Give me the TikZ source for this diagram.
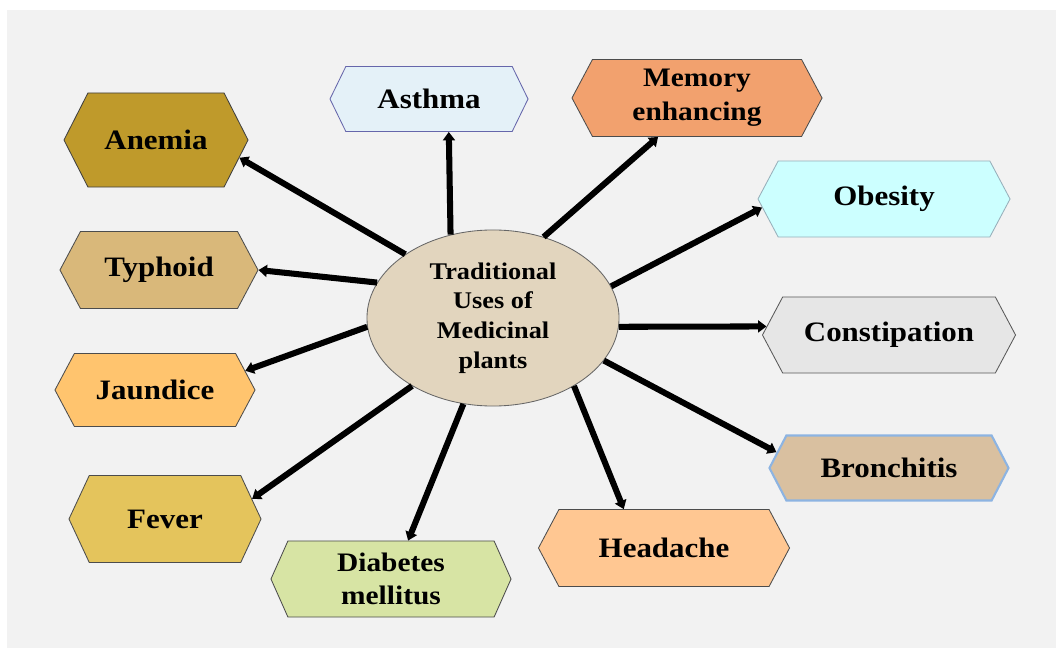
\documentclass[tikz,border=0pt]{standalone}
\usepackage{fontspec}
\setmainfont{Liberation Serif}[FakeStretch=1.1]
\usepackage{tikz}
\usetikzlibrary{shapes.symbols,shapes.geometric,arrows.meta}
\definecolor{fundo}{RGB}{242,242,242}
\definecolor{anemia}{RGB}{191,154,43}
\definecolor{typhoid}{RGB}{217,184,122}
\definecolor{asthma}{RGB}{228,241,248}
\definecolor{memory}{RGB}{242,161,110}
\definecolor{obesity}{RGB}{204,255,255}
\definecolor{constip}{RGB}{230,230,230}
\definecolor{bronch}{RGB}{217,192,160}
\definecolor{bronchline}{RGB}{141,180,226}
\definecolor{headache}{RGB}{255,199,146}
\definecolor{jaundice}{RGB}{255,196,110}
\definecolor{fever}{RGB}{228,196,92}
\definecolor{diabetes}{RGB}{215,228,164}
\definecolor{centro}{RGB}{226,213,190}

\begin{document}
\begin{tikzpicture}[x=0.025cm, y=-0.025cm,
    hexa/.style={shape=signal, signal to=west and east,
      signal pointer angle=124, draw=black!70, line width=0.6pt,
      inner sep=0pt, align=center,
      font=\fontsize{20}{22}\selectfont\bfseries}, % caixas hexagonais
    duas/.style={font=\fontsize{19}{24}\selectfont\bfseries}, % rotulos de duas linhas
    seta/.style={-{Triangle[length=6pt, width=8.5pt]}, line width=4.3pt, black}, % setas
  ]
  \useasboundingbox (0,0) rectangle (1056,648);
  \fill[white] (0,0) rectangle (1056,648);
  \fill[fundo] (7,10) rectangle (1056,648);

  % centro
  \node[ellipse, draw=black!60, fill=centro, line width=0.6pt,
    minimum width=6.3cm, minimum height=4.4cm, align=center,
    font=\fontsize{17}{21}\selectfont\bfseries] (ell) at (493,318)
    {Traditional\\ Uses of\\ Medicinal\\ plants};

  % caixas
  \node[hexa, fill=anemia, draw=black!75, minimum width=4.6cm,
    minimum height=2.35cm, signal pointer angle=126] (anemia) at (156,140) {Anemia};
  \node[hexa, fill=typhoid, minimum width=4.95cm,
    minimum height=1.925cm] (typhoid) at (159,270) {Typhoid};
  \node[hexa, fill=asthma, draw=black!55!blue!60, minimum width=4.95cm,
    minimum height=1.625cm, signal pointer angle=128] (asthma) at (429,99) {Asthma};
  \node[hexa, duas, fill=memory, minimum width=6.25cm,
    minimum height=1.925cm] (memory) at (697,98) {Memory\\ enhancing};
  \node[hexa, fill=obesity, draw=black!60!cyan!50, minimum width=6.3cm,
    minimum height=1.9cm] (obesity) at (884,199) {Obesity};
  \node[hexa, fill=constip, draw=black!65, minimum width=6.325cm,
    minimum height=1.9cm] (constip) at (889,335) {Constipation};
  \node[hexa, fill=bronch, draw=bronchline, line width=1.5pt,
    minimum width=5.975cm, minimum height=1.625cm,
    signal pointer angle=125] (bronch) at (889,468) {Bronchitis};
  \node[hexa, fill=headache, minimum width=6.275cm,
    minimum height=1.925cm] (headache) at (664,548) {Headache};
  \node[hexa, fill=jaundice, minimum width=5.0cm,
    minimum height=1.825cm] (jaundice) at (155,390) {Jaundice};
  \node[hexa, fill=fever, minimum width=4.8cm,
    minimum height=2.175cm, signal pointer angle=130] (fever) at (165,519) {Fever};
  \node[hexa, duas, fill=diabetes, minimum width=6.0cm,
    minimum height=1.9cm, signal pointer angle=132] (diabetes) at (391,579) {Diabetes\\ mellitus};

  % setas
  \draw[seta] (ell.144.6) -- (anemia.-12);
  \draw[seta] (ell.163) -- (typhoid.east);
  \draw[seta] (ell.184.5) -- (jaundice.12);
  \draw[seta] (ell.220) -- (fever.13);
  \draw[seta] (ell.251) -- (diabetes.66.5);
  \draw[seta] (ell.320) -- (headache.136);
  \draw[seta] (ell.339.7) -- (bronch.172);
  \draw[seta] (ell.356) -- (constip.176.7);
  \draw[seta] (ell.15.6) -- (obesity.184);
  \draw[seta] (ell.58.8) -- (memory.-135);
  \draw[seta] (ell.117.9) -- (asthma.-59.5);
\end{tikzpicture}
\end{document}
